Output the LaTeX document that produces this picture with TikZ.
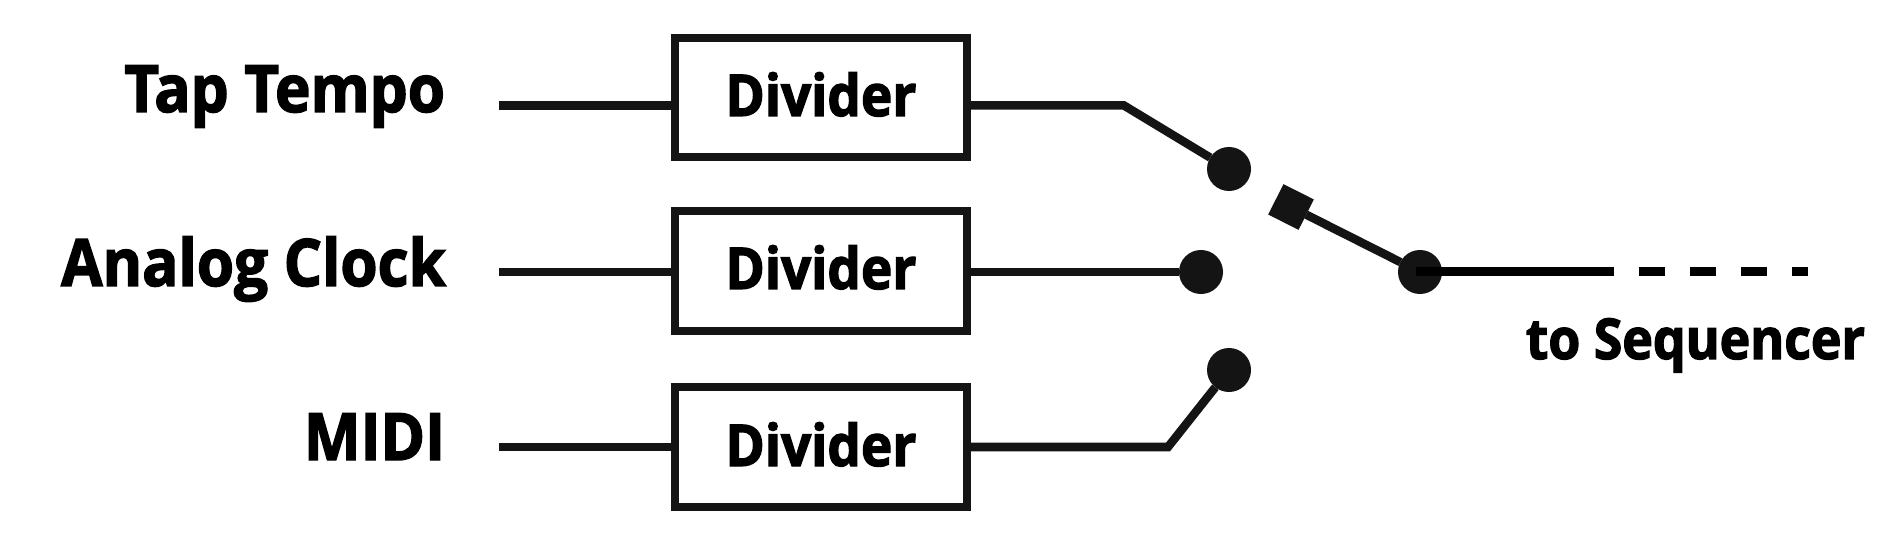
\documentclass[tikz,border=0pt]{standalone}
\usepackage{fontspec}
\setmainfont{Open Sans}[FakeStretch=0.92, BoldFeatures={FakeBold=2.2}]
\definecolor{ink}{HTML}{141414}

\begin{document}
\begin{tikzpicture} [x=0.01cm, y=-0.01cm,
nodes={inner sep=0pt, outer sep=0pt},
label/.style={anchor=base east, font=\fontsize{18.6pt}{18.6pt}\selectfont\bfseries, text=black},
divider/.style={draw=ink, line width=0.08cm, minimum width=2.92cm, minimum height=1.19cm},
divname/.style={anchor=base, font=\fontsize{16.4pt}{16.4pt}\selectfont\bfseries, text=black},
terminal/.style={circle, fill=ink, minimum size=0.44cm},
wire/.style={draw=ink, line width=0.085cm},
outwire/.style={draw=black, line width=0.09cm}]

\useasboundingbox (0,0) rectangle (1894,552);

\node[label] (taplabel) at (445,112) {Tap Tempo};
\node[label] (analoglabel) at (446,286) {Analog Clock};
\node[label] (midilabel) at (445,460) {MIDI};

\node[divider] (tapbox) at (821,97.5) {};
\node[divider] (analogbox) at (821,271) {};
\node[divider] (midibox) at (821,447) {};
\node[divname] (tapname) at (821,116) {Divider};
\node[divname] (analogname) at (821,289) {Divider};
\node[divname] (midiname) at (821,466) {Divider};

\node[terminal] (tapend) at (1229,169) {};
\node[terminal] (analogend) at (1201,272) {};
\node[terminal] (midiend) at (1229,370) {};
\node[terminal] (common) at (1420,272) {};
\node[fill=ink, minimum size=0.34cm, rotate=-26.7] (blade) at (1291,207) {};
\node[divname, anchor=base east, font=\fontsize{16pt}{16pt}\selectfont\bfseries] (seqlabel) at (1865,359) {to Sequencer};

\coordinate (tapin) at (499,105.5);
\coordinate (analogin) at (499,272);
\coordinate (midiin) at (499,447);
\coordinate (tapout) at (970,105.5);
\coordinate (analogout) at (970,272);
\coordinate (midiout) at (970,447);
\coordinate (tapbend) at (1124,105.5);
\coordinate (midibend) at (1168,447);
\coordinate (linestart) at (1416,272);
\coordinate (lineend) at (1614,272);
\coordinate (dashstart) at (1639,272);
\coordinate (dashend) at (1808,272);

\draw[wire] (tapin) -- (tapin -| tapbox.west);
\draw[wire] (analogin) -- (analogin -| analogbox.west);
\draw[wire] (midiin) -- (midiin -| midibox.west);
\draw[wire] (tapout) -- (tapbend) -- (tapend);
\draw[wire] (analogout) -- (analogend);
\draw[wire] (midiout) -- (midibend) -- (midiend);
\draw[wire] (blade) -- (common);
\draw[outwire] (linestart) -- (lineend);
\draw[outwire, dash pattern=on 0.26cm off 0.25cm] (dashstart) -- (dashend);

\end{tikzpicture}
\end{document}
